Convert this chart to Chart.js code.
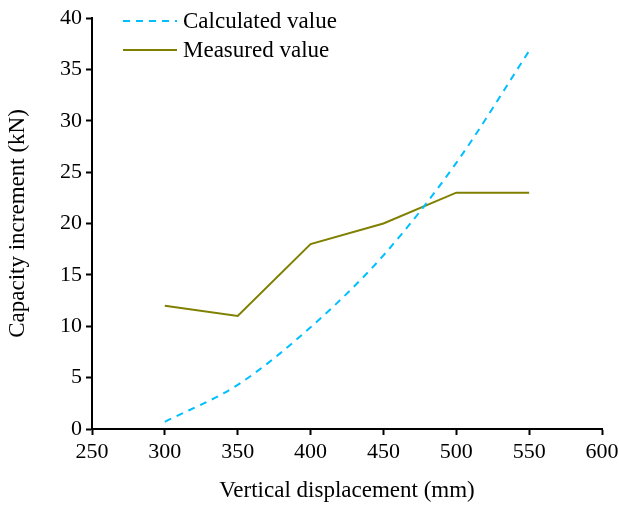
<!DOCTYPE html>
<html>
<head>
<meta charset="utf-8">
<script src="https://cdn.jsdelivr.net/npm/chart.js@4"></script>
<style>
  html, body { margin: 0; padding: 0; background: #fff; }
  #wrap { width: 619px; height: 509px; }
</style>
</head>
<body>
<div id="wrap"><canvas id="lineChart" width="619" height="509"></canvas></div>
<script>
// data
const displacement = [300, 350, 400, 450, 500, 550];
const calculated = [0.7, 4.3, 9.9, 16.9, 25.9, 36.8];
const measured = [12, 11, 18, 20, 23, 23];
const seriesNames = ['Calculated value', 'Measured value'];

const FONT = 'Liberation Serif, Times New Roman, serif';

function toPoints(ys) {
  return displacement.map((x, i) => ({ x: x, y: ys[i] }));
}

// legend drawn inside the plot, top left
const innerLegend = {
  id: 'innerLegend',
  afterDraw(chart) {
    const ctx = chart.ctx;
    const area = chart.chartArea;
    ctx.save();
    ctx.font = '23px ' + FONT;
    ctx.textBaseline = 'middle';
    chart.data.datasets.forEach((ds, i) => {
      const y = area.top + 3 + i * 29;
      const x0 = area.left + 31;
      ctx.strokeStyle = ds.borderColor;
      ctx.lineWidth = ds.borderWidth;
      ctx.setLineDash(ds.borderDash || []);
      ctx.beginPath();
      ctx.moveTo(x0, y);
      ctx.lineTo(x0 + 54, y);
      ctx.stroke();
      ctx.setLineDash([]);
      ctx.fillStyle = '#000';
      ctx.fillText(ds.label, x0 + 60, y + 1);
    });
    ctx.restore();
  }
};

const tickFont = { family: FONT, size: 22 };
const titleFont = { family: FONT, size: 23 };

const config = {
  type: 'scatter',
  data: {
    datasets: [{
      label: seriesNames[0],
      data: toPoints(calculated),
      showLine: true,
      borderColor: '#00BFFF',
      borderWidth: 2,
      borderDash: [7, 6],
      pointRadius: 0,
      cubicInterpolationMode: 'monotone'
    }, {
      label: seriesNames[1],
      data: toPoints(measured),
      showLine: true,
      borderColor: '#808000',
      borderWidth: 2,
      pointRadius: 0
    }]
  },
  options: {
    responsive: false,
    animation: false,
    layout: { padding: { top: 18, right: 0, left: 0, bottom: 0 } },
    plugins: {
      legend: { display: false },
      tooltip: { enabled: false }
    },
    scales: {
      x: {
        type: 'linear',
        min: 250,
        max: 600,
        ticks: { stepSize: 50, color: '#000', font: tickFont, padding: 4 },
        grid: { display: true, drawOnChartArea: false, drawTicks: true, tickLength: 6, tickColor: '#000', tickWidth: 2 },
        border: { color: '#000', width: 2 },
        title: { display: true, text: 'Vertical displacement (mm)', color: '#000', font: titleFont, padding: { top: 9 } },
        afterFit(scale) { scale.height = 80; scale.paddingRight = 17; }
      },
      y: {
        min: 0,
        max: 40,
        ticks: { stepSize: 5, color: '#000', font: tickFont, padding: 4 },
        grid: { display: true, drawOnChartArea: false, drawTicks: true, tickLength: 6, tickColor: '#000', tickWidth: 2 },
        border: { color: '#000', width: 2 },
        title: { display: true, text: 'Capacity increment (kN)', color: '#000', font: titleFont, padding: { top: 4, bottom: 0 } },
        afterFit(scale) { scale.width = 92; }
      }
    }
  },
  plugins: [innerLegend]
};

var line_area = document.getElementById('lineChart');
var myLineChart = new Chart(line_area, config);
</script>
</body>
</html>
